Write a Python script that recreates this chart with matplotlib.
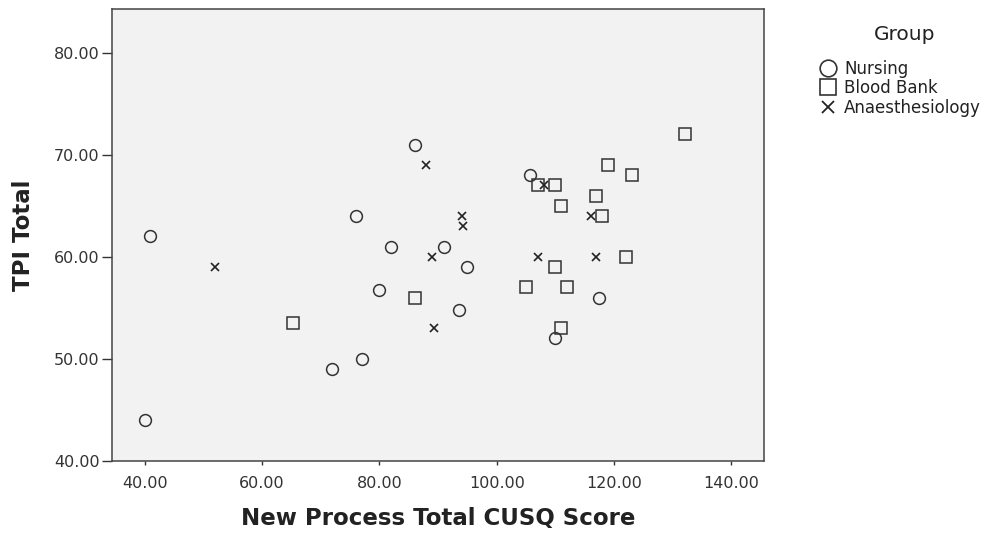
import numpy as np
import matplotlib
matplotlib.use("Agg")
import matplotlib.pyplot as plt
from matplotlib.lines import Line2D

# ---------------- DATA ----------------
nursing_x = [86, 76, 41, 82, 91, 95, 80, 93.6, 77, 72, 40, 105.6, 117.5, 110]
nursing_y = [71, 64, 62, 61, 61, 59, 56.7, 54.8, 50, 49, 44, 68, 56, 52]

blood_x = [65.3, 86, 107, 110, 111, 119, 123, 132, 117, 118, 110, 122, 105, 112, 111]
blood_y = [53.5, 56, 67, 67, 65, 69, 68, 72, 66, 64, 59, 60, 57, 57, 53]

anaes_x = [88, 94, 94.3, 89, 52, 89.3, 108, 116, 107, 117]
anaes_y = [69, 64, 63, 60, 59, 53, 67, 64, 60, 60]

groups = ["Nursing", "Blood Bank", "Anaesthesiology"]
x_ticks = [40, 60, 80, 100, 120, 140]
y_ticks = [40, 50, 60, 70, 80]

# ---------------- PLOT ----------------
fig = plt.figure(figsize=(9.87, 5.36), dpi=100)
ax = fig.add_axes([0.1138, 0.1405, 0.6606, 0.8427])
ax.set_facecolor("#f2f2f2")

edge = "#333333"
ax.plot(nursing_x, nursing_y, linestyle="none", marker="o", markersize=8.5,
        markerfacecolor="none", markeredgecolor=edge, markeredgewidth=1.1)
ax.plot(blood_x, blood_y, linestyle="none", marker="s", markersize=8.5,
        markerfacecolor="none", markeredgecolor=edge, markeredgewidth=1.1)
ax.plot(anaes_x, anaes_y, linestyle="none", marker="x", markersize=5.5,
        markeredgecolor="#222222", markeredgewidth=1.2)

ax.set_xlim(34.5, 145.6)
ax.set_ylim(40, 84.3)
ax.set_xticks(x_ticks)
ax.set_yticks(y_ticks)
ax.set_xticklabels([f"{v:.2f}" for v in x_ticks])
ax.set_yticklabels([f"{v:.2f}" for v in y_ticks])
ax.tick_params(direction="out", width=1, color=edge,
               labelsize=11.5, labelcolor=edge)
ax.tick_params(axis="x", length=3.2, pad=8)
ax.tick_params(axis="y", length=7, pad=2)
for s in ax.spines.values():
    s.set_color("#444444")
    s.set_linewidth(1.1)

ax.set_xlabel("New Process Total CUSQ Score", fontsize=16.5, fontweight="bold",
              color="#222222", labelpad=11)
ax.set_ylabel("TPI Total", fontsize=16.5, fontweight="bold",
              color="#222222", labelpad=14)

# legend: title as separate text, entries below
fig.text(905 / 987, 1 - 35 / 536, "Group", fontsize=14.5, color="#222222",
         ha="center", va="center")
handles = [
    Line2D([], [], linestyle="none", marker="o", markersize=12,
           markerfacecolor="none", markeredgecolor=edge, markeredgewidth=1.2),
    Line2D([], [], linestyle="none", marker="s", markersize=11.5,
           markerfacecolor="none", markeredgecolor=edge, markeredgewidth=1.2),
    Line2D([], [], linestyle="none", marker="x", markersize=8,
           markeredgecolor="#222222", markeredgewidth=1.3),
]
leg = fig.legend(handles, groups, loc="upper left",
                 bbox_to_anchor=(819 / 987, 1 - 60 / 536), frameon=False,
                 fontsize=12, handlelength=1.05, handletextpad=0.45,
                 labelspacing=0.08, borderpad=0, borderaxespad=0)
for t in leg.get_texts():
    t.set_color("#222222")

fig.savefig("out.png", dpi=100)
